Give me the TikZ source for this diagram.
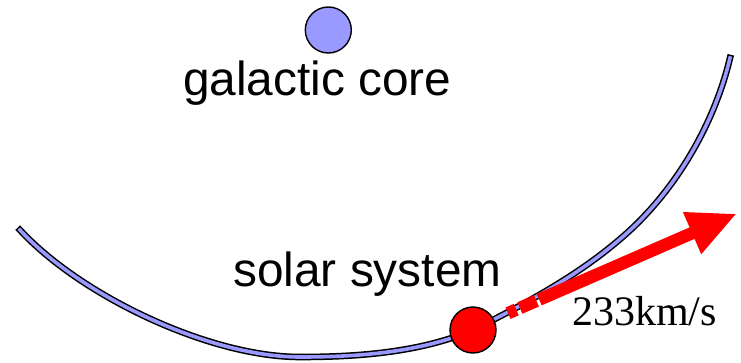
\documentclass[tikz,border=0pt]{standalone}
\usepackage{fontspec}
\setmainfont{Liberation Sans}
\newfontfamily\serifface{Liberation Serif}
\usetikzlibrary{arrows.meta,calc}
\definecolor{periw}{HTML}{9999FF}
\definecolor{vred}{HTML}{FF0000}
\tikzset{
  orbitband/.style={draw=black, line width=1.5pt, double=periw, double distance=3.6pt, line cap=rect},
  bodydot/.style={circle, draw=black, line width=1.4pt, minimum size=46pt, inner sep=0pt},
  biglabel/.style={anchor=base west, inner sep=0pt, font=\fontsize{47.8}{52}\selectfont},
  speedlabel/.style={anchor=base west, inner sep=0pt, font=\serifface\fontsize{42}{46}\selectfont},
  velpart/.style={draw=vred, line width=12.5pt, line cap=butt}
}
\begin{document}
\begin{tikzpicture}[x=1pt,y=-1pt]
\useasboundingbox (0,0) rectangle (741,362);
% orbit
\coordinate (oa) at (20,230);
\coordinate (ob) at (300,357);
\coordinate (oc) at (473,330);
\coordinate (od) at (627,233);
\coordinate (oe) at (730,58);
\draw[orbitband] (oa) .. controls (81,296) and (209.5,357) .. (ob)
  .. controls (358,357) and (420.5,352.4) .. (oc)
  .. controls (527.5,302.7) and (581.7,273.8) .. (od)
  .. controls (676.8,188.2) and (714.5,123.2) .. (oe);
% bodies
\node[bodydot, fill=periw] (core) at (328.3,30) {};
\node[bodydot, fill=vred] (sun) at (473,330) {};
% labels
\node[biglabel] (corelbl) at (183,95) {galactic core};
\node[biglabel] (sunlbl) at (233,286) {solar system};
\node[speedlabel] (speed) at (572,325) {233km/s};
% velocity arrow
\coordinate (o) at (508,313.2);
\coordinate (tip) at ($(o)+(249.7*0.917,-249.7*0.399)$);
\coordinate (d1a) at (o);
\coordinate (d1b) at ($(o)+(9*0.917,-9*0.399)$);
\coordinate (d2a) at ($(o)+(13*0.917,-13*0.399)$);
\coordinate (d2b) at ($(o)+(31*0.917,-31*0.399)$);
\coordinate (sa) at ($(o)+(34*0.917,-34*0.399)$);
\draw[velpart] (d1a) -- (d1b);
\draw[velpart] (d2a) -- (d2b);
\draw[velpart, -{Triangle[length=49pt,width=42pt]}] (sa) -- (tip);
\end{tikzpicture}
\end{document}
